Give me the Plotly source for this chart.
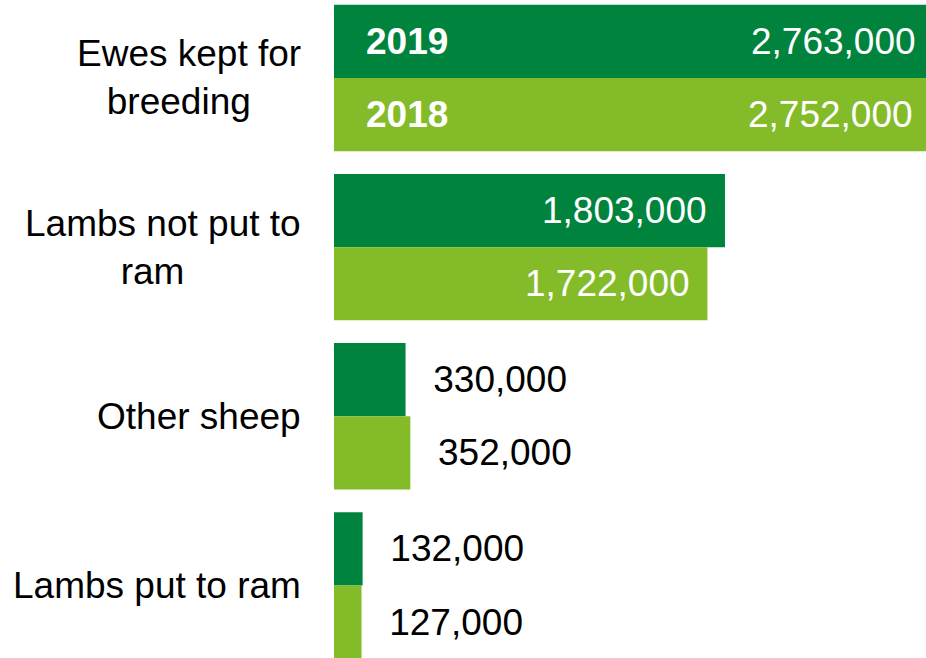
import plotly.graph_objects as go

categories = ["Ewes kept for<br>breeding", "Lambs not put to<br>ram", "Other sheep", "Lambs put to ram"]
years = ["2019", "2018"]
values_2019 = [2763000, 1803000, 330000, 132000]
values_2018 = [2752000, 1722000, 352000, 127000]
label_pos = ["inside", "inside", "outside", "outside"]

colors = {"2019": "#00843D", "2018": "#84BC29"}
FONT = "Liberation Sans, Arial, sans-serif"
FS = 37
INSIDE_OFFSET = 72000   # gap (in axis units) between bar end and an inside label
ROW_SHIFT = {"2019": 36.5, "2018": -36.5}

fig = go.Figure()
annotations = []
for yr, vals in zip(years, [values_2019, values_2018]):
    tmpl = ["\u2004\u2004%{x:,}" if p == "outside" else "" for p in label_pos]
    pos = ["outside" if p == "outside" else "none" for p in label_pos]
    fig.add_trace(go.Bar(
        y=categories, x=vals, name=yr, orientation="h",
        marker=dict(color=colors[yr], line=dict(width=0)),
        texttemplate=tmpl, textposition=pos, constraintext="none",
        outsidetextfont=dict(color="black", size=FS, family=FONT),
        cliponaxis=True, hoverinfo="skip",
    ))
    for cat, v, p in zip(categories, vals, label_pos):
        if p == "inside":
            annotations.append(dict(
                xref="x", yref="y", x=v - INSIDE_OFFSET, y=cat, text=f"{v:,}",
                xanchor="right", yanchor="middle", yshift=ROW_SHIFT[yr], showarrow=False,
                font=dict(size=FS, color="white", family=FONT),
            ))

for cat in categories:
    lines = cat.split("<br>")
    text = "<br>".join([lines[0]] + [ln + "\u00a0\u00a0" for ln in lines[1:]])
    annotations.append(dict(
        xref="paper", yref="y", x=303 / 926, y=cat, text=text,
        xanchor="right", yanchor="middle", align="center", showarrow=False,
        font=dict(size=FS, color="black", family=FONT),
    ))
for yr in years:
    annotations.append(dict(
        xref="x", yref="y", x=0, y=categories[0], text="<b>" + yr + "</b>",
        xanchor="left", yanchor="middle", xshift=30, yshift=ROW_SHIFT[yr], showarrow=False,
        font=dict(size=FS, color="white", family=FONT),
    ))

fig.update_layout(
    width=926, height=658,
    margin=dict(l=0, r=0, t=0, b=0),
    paper_bgcolor="white", plot_bgcolor="white",
    barmode="group", bargap=0.135, bargroupgap=0,
    showlegend=False,
    font=dict(family=FONT, size=FS, color="black"),
    xaxis=dict(domain=[334 / 926, 1], range=[0, 2730000], visible=False,
               showgrid=False, zeroline=False, fixedrange=True),
    yaxis=dict(type="category", categoryorder="array", categoryarray=categories,
               range=[3.429, -0.461], visible=False, showgrid=False, fixedrange=True),
    annotations=annotations,
)

fig.write_html("out.html")
